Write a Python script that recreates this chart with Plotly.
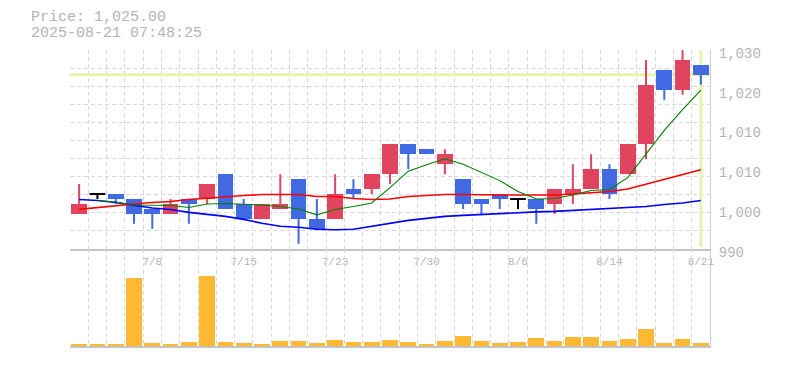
import plotly.graph_objects as go

# ---------------- data ----------------
dates = ["7/2", "7/3", "7/4", "7/7", "7/8", "7/9", "7/10", "7/11", "7/14", "7/15",
         "7/16", "7/17", "7/18", "7/22", "7/23", "7/24", "7/25", "7/28", "7/29", "7/30",
         "7/31", "8/1", "8/4", "8/5", "8/6", "8/7", "8/8", "8/12", "8/13", "8/14",
         "8/15", "8/18", "8/19", "8/20", "8/21"]
opens = [997, 1001, 1001, 1000, 998, 997, 1000, 1000, 1005, 999,
         996, 998, 1004, 996, 996, 1002, 1002, 1005, 1011, 1010,
         1007, 1004, 1000, 1001, 1000, 1000, 999, 1001, 1002, 1006,
         1005, 1011, 1026, 1022, 1027]
highs = [1003, 1001, 1001, 1000, 998, 1000, 1000, 1003, 1005, 1000,
         999, 1005, 1004, 1000, 1005, 1004, 1005, 1011, 1011, 1010,
         1010, 1004, 1000, 1001, 1000, 1000, 1002, 1007, 1009, 1007,
         1011, 1028, 1026, 1030, 1027]
lows = [997, 1000, 999, 995, 994, 997, 995, 999, 998, 996,
        996, 998, 991, 994, 996, 1000, 1001, 1003, 1006, 1009,
        1005, 998, 997, 998, 998, 995, 997, 999, 1002, 1000,
        1005, 1008, 1020, 1021, 1023]
closes = [999, 1001, 1000, 997, 997, 999, 999, 1003, 998, 996,
          999, 999, 996, 994, 1001, 1001, 1005, 1011, 1009, 1009,
          1009, 999, 999, 1000, 1000, 998, 1002, 1002, 1006, 1001,
          1011, 1023, 1022, 1028, 1025]
volumes = [600, 600, 600, 20700, 900, 600, 1200, 21300, 1200, 900,
           600, 1500, 1500, 900, 1800, 1200, 1200, 1800, 1200, 600,
           1500, 3000, 1500, 900, 1200, 2400, 1500, 2700, 2700, 1500,
           2100, 5100, 900, 2100, 900]
ma_short = [None, 999.7, 999.4, 998.8, 998.7, 998.7, 998.3, 999.0, 999.1, 999.0,
            998.8, 998.5, 998.0, 996.8, 997.9, 998.5, 999.2, 1002.3, 1005.6, 1006.9,
            1008.1, 1007.0, 1005.3, 1003.7, 1001.5, 1000.0, 1000.1, 1000.8, 1001.7, 1001.9,
            1004.3, 1009.0, 1013.8, 1018.0, 1021.9]
ma_mid = [997.9, 998.3, 998.7, 999.0, 999.3, 999.5, 999.9, 1000.2, 1000.5, 1000.7,
          1000.9, 1000.9, 1000.9, 1000.5, 1000.5, 1000.1, 999.9, 1000.0, 1000.5, 1000.7,
          1000.9, 1000.9, 1000.8, 1000.8, 1000.8, 1000.8, 1000.8, 1001.0, 1001.3, 1001.5,
          1002.0, 1003.0, 1004.0, 1005.0, 1005.9]
ma_long = [999.9, 999.7, 999.3, 998.7, 998.2, 997.9, 997.3, 996.9, 996.5, 995.9,
           995.1, 994.5, 994.3, 993.9, 993.8, 993.9, 994.5, 995.1, 995.7, 996.1,
           996.5, 996.7, 996.9, 997.1, 997.3, 997.4, 997.5, 997.7, 997.9, 998.1,
           998.3, 998.5, 998.9, 999.2, 999.7]
label_idx = [4, 9, 14, 19, 24, 29, 34]
y_tickvals = [990, 998, 1006, 1014, 1022, 1030]
y_ticktext = ["990", "1,000", "1,010", "1,010", "1,020", "1,030"]
current_price = 1025
price_text = "Price: 1,025.00"
time_text = "2025-08-21 07:48:25"

# ---------------- styles ----------------
UP = "#E0445F"
DOWN = "#4169E1"
DOJI = "#000000"
VOL = "#FDB933"
PRICE_LINE = "#E4F5A8"
GRID = "#d8d8d8"
TXT = "#b4b4b4"
FONT = "Liberation Mono"
BODY_W = 0.86

n = len(dates)
xs = list(range(n))

fig = go.Figure()

# wicks grouped by colour
groups = {UP: ([], []), DOWN: ([], []), DOJI: ([], [])}
body_base, body_h, body_col = [], [], []
doji_x, doji_y = [], []
for i in xs:
    o, h, l, c = opens[i], highs[i], lows[i], closes[i]
    col = UP if c > o else (DOWN if c < o else DOJI)
    gx, gy = groups[col]
    gx += [i, i, None]
    gy += [l, h, None]
    body_base.append(min(o, c))
    body_h.append(abs(c - o))
    body_col.append(col)
    if c == o:
        doji_x += [i - BODY_W / 2, i + BODY_W / 2, None]
        doji_y += [o, o, None]

for col, (gx, gy) in groups.items():
    fig.add_trace(go.Scatter(x=gx, y=gy, mode="lines", line=dict(color=col, width=2),
                             xaxis="x", yaxis="y", showlegend=False, hoverinfo="skip"))

fig.add_trace(go.Bar(x=xs, y=body_h, base=body_base, width=BODY_W,
                     marker=dict(color=body_col, line=dict(width=0)),
                     xaxis="x", yaxis="y", showlegend=False))
fig.add_trace(go.Scatter(x=doji_x, y=doji_y, mode="lines", line=dict(color=DOJI, width=2),
                         xaxis="x", yaxis="y", showlegend=False, hoverinfo="skip"))

# moving averages
for vals, col, w in [(ma_long, "#0000FF", 1.6), (ma_mid, "#FF0000", 1.6), (ma_short, "#008000", 1.1)]:
    fig.add_trace(go.Scatter(x=xs, y=vals, mode="lines", line=dict(color=col, width=w),
                             xaxis="x", yaxis="y", showlegend=False, connectgaps=False))

# volume
fig.add_trace(go.Bar(x=xs, y=volumes, width=BODY_W, marker=dict(color=VOL, line=dict(width=0)),
                     xaxis="x2", yaxis="y2", showlegend=False))

# price markers
fig.add_shape(type="line", xref="x", yref="y", x0=-0.5, x1=n - 0.5, y0=current_price, y1=current_price,
              line=dict(color=PRICE_LINE, width=3), layer="between")
fig.add_shape(type="line", xref="x", yref="y", x0=n - 1, x1=n - 1, y0=990.4, y1=1030,
              line=dict(color=PRICE_LINE, width=3), layer="between")

minor_x = dict(tick0=-0.5, dtick=1, showgrid=True, gridcolor=GRID, griddash="4px,3px", gridwidth=1)

# page body has an 8px default margin, so the figure is sized/offset to compensate
fig.update_layout(
    width=777, height=362,
    margin=dict(l=62, r=75, t=42, b=22),
    paper_bgcolor="white", plot_bgcolor="white",
    barmode="overlay", bargap=0,
    font=dict(family=FONT, color=TXT),
    xaxis=dict(domain=[0, 1], anchor="y", range=[-0.5, n - 0.5],
               tickvals=label_idx, ticktext=[dates[i] for i in label_idx],
               tickfont=dict(size=11, color=TXT, family=FONT), ticks="", ticklabelstandoff=1,
               showgrid=False, zeroline=False, showline=True, linecolor="#c4c4c4", linewidth=2,
               minor=minor_x),
    yaxis=dict(domain=[98 / 298, 1], anchor="x", range=[990, 1030], side="right",
               tickvals=y_tickvals, ticktext=y_ticktext,
               tickfont=dict(size=14, color=TXT, family=FONT), ticks="",
               ticklabelstandoff=5, ticklabelshift=3,
               showgrid=False, zeroline=False, showline=True, linecolor="#cccccc", linewidth=1,
               minor=dict(tick0=990, dtick=40 / 11, showgrid=True, gridcolor=GRID,
                          griddash="4px,3px", gridwidth=1)),
    xaxis2=dict(domain=[0, 1], anchor="y2", matches="x", range=[-0.5, n - 0.5],
                showticklabels=False, ticks="", showgrid=False, zeroline=False,
                showline=True, linecolor="#c4c4c4", linewidth=2, minor=minor_x),
    yaxis2=dict(domain=[0, 98 / 298], anchor="x2", range=[0, 29400], side="right",
                showticklabels=False, ticks="", showgrid=False, zeroline=False,
                showline=True, linecolor="#cccccc", linewidth=1),
    annotations=[
        dict(text=price_text, xref="paper", yref="paper", x=(29 - 70) / 640, y=(348 - 17) / 298,
             xanchor="left", yanchor="middle", showarrow=False,
             font=dict(size=15, color=TXT, family=FONT)),
        dict(text=time_text, xref="paper", yref="paper", x=(29 - 70) / 640, y=(348 - 33) / 298,
             xanchor="left", yanchor="middle", showarrow=False,
             font=dict(size=15, color=TXT, family=FONT)),
    ],
)

fig.write_html("out.html")
